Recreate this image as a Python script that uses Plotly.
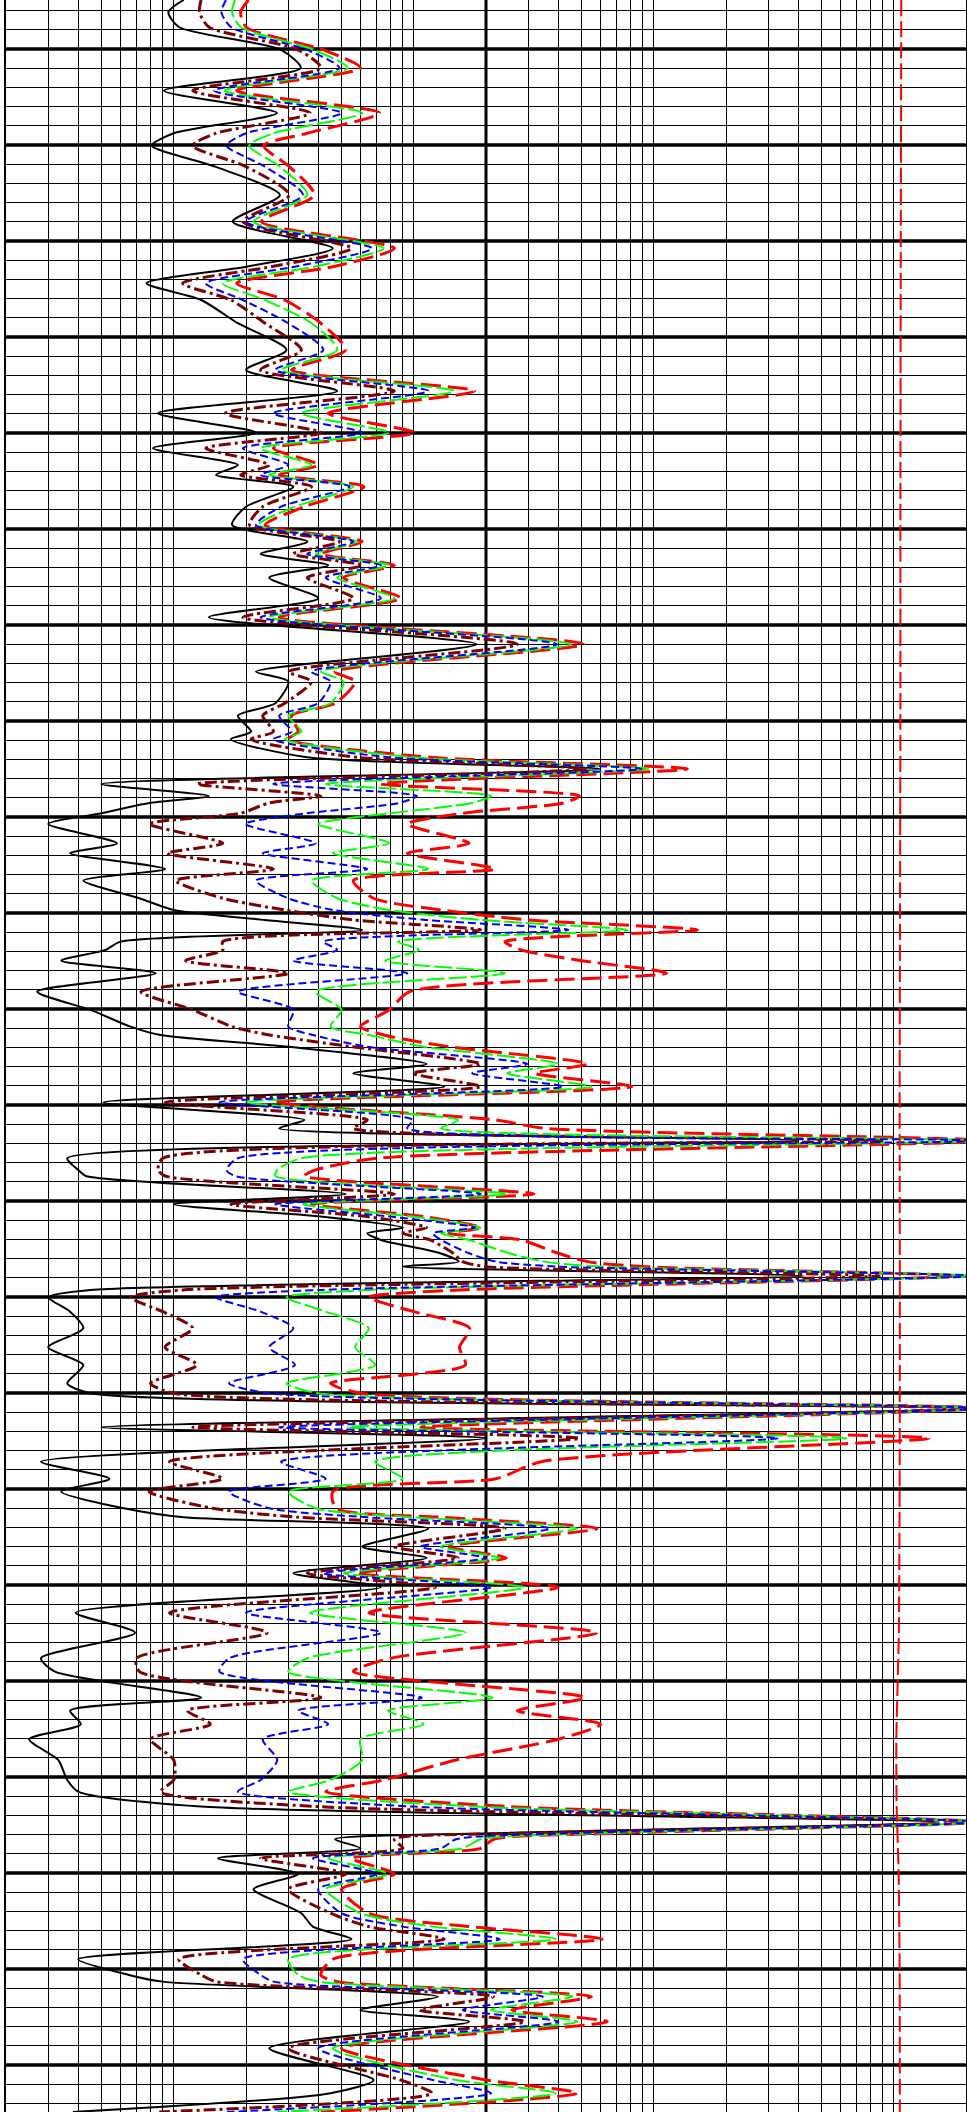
import math
import plotly.graph_objects as go

# ---------------- data ----------------
depth = [4994.9, 4996.15, 4997.71, 5000.1, 5001.98, 5004.34, 5006.67, 5008.78, 5010.07, 5012.26,
         5015.21, 5017.99, 5020.76, 5022.68, 5024.41, 5026.15, 5028.57, 5031.35, 5033.44, 5035.63,
         5037.95, 5039.97, 5041.59, 5043.33, 5044.37, 5045.59, 5047.68, 5049.58, 5051.32, 5052.6,
         5053.78, 5055.07, 5057.22, 5059.2, 5062.01, 5064.86, 5065.9, 5068.15, 5069.45, 5071.11,
         5071.9, 5073.78, 5075.0, 5076.56, 5077.81, 5078.54, 5079.61, 5080.73, 5082.74, 5083.78,
         5085.42, 5086.63, 5088.47, 5089.69, 5090.73, 5091.77, 5092.99, 5093.85, 5094.97, 5096.28,
         5098.2, 5100.1, 5101.84, 5102.71, 5103.93, 5105.73, 5106.7, 5108.09, 5109.72, 5111.56,
         5112.43, 5113.72, 5115.55, 5116.77, 5117.4, 5119.27, 5120.34, 5121.63, 5122.78, 5123.37,
         5124.06, 5125.45, 5126.32, 5126.84, 5127.81, 5129.27, 5130.03, 5131.53, 5133.26, 5135.24,
         5137.08, 5138.99, 5140.03, 5141.6, 5143.57, 5144.72, 5147.16, 5148.93, 5150.28, 5152.01,
         5152.95, 5154.13, 5156.01, 5157.19, 5158.78, 5160.24, 5162.89, 5164.97, 5167.63, 5169.03,
         5171.74, 5173.09, 5174.51, 5176.07, 5178.23, 5180.31, 5181.53, 5183.09, 5184.69, 5185.86,
         5186.49, 5187.43, 5188.47, 5190.1, 5191.69, 5194.19, 5195.59, 5196.9, 5198.99, 5200.62,
         5201.32, 5202.88, 5204.27, 5205.49, 5208.26, 5211.56, 5212.94, 5214.9]

# shallowest (black)
res_10 = [1.1, 0.95, 1.05, 2.8, 3.38, 0.91, 2.69, 1.0, 0.81, 1.49,
          2.77, 1.76, 4.6, 2.0, 0.77, 1.3, 1.85, 2.95, 2.0, 4.8,
          0.86, 2.2, 0.82, 1.85, 1.5, 3.15, 2.0, 1.75, 3.6, 2.3,
          4.4, 2.5, 4.0, 1.4, 18.3, 2.2, 3.0, 2.65, 1.85, 2.1,
          1.73, 3.6, 60, 0.5, 1.4, 0.79, 0.5, 0.3, 0.58, 0.37,
          0.92, 0.42, 0.72, 1.0, 2.4, 6.1, 0.6, 0.52, 0.34, 0.84,
          0.27, 0.45, 0.66, 0.88, 3.0, 11.3, 5.6, 13.4, 0.51, 3.5,
          2.75, 400, 0.36, 0.4, 0.43, 5.2, 1.0, 4.1, 9, 6.4,
          7.3, 12.9, 15.4, 9, 420, 0.45, 0.3, 0.37, 0.42, 0.3,
          0.42, 0.36, 0.45, 2000, 0.5, 20, 0.28, 0.54, 0.34, 0.62,
          1.1, 11.5, 6.1, 11.3, 3.15, 7.3, 0.39, 0.69, 0.28, 0.32,
          1.3, 0.37, 0.41, 0.25, 0.33, 0.36, 0.4, 1.3, 1500, 21,
          4.7, 6.0, 1.53, 3.3, 2.15, 3.4, 3.8, 5.5, 0.4, 0.65,
          0.9, 12.6, 6.0, 17, 2.5, 6.8, 4.5, 0.38]

# maroon
res_20 = [1.3, 1.28, 1.4, 3.3, 4.1, 1.2, 3.7, 1.5, 1.2, 2.0,
          3.03, 1.94, 5.5, 2.55, 1.09, 1.73, 2.4, 3.4, 2.3, 8.3,
          1.64, 4.1, 1.36, 2.5, 1.9, 3.75, 2.35, 2.07, 4.9, 3.15,
          6.1, 3.6, 5.6, 1.94, 27, 3.0, 3.75, 2.9, 2.35, 2.6,
          2.1, 5.8, 53, 1.25, 4.1, 2.5, 1.9, 0.79, 1.6, 0.94,
          2.6, 1.02, 1.6, 2.9, 5.6, 19, 1.6, 1.6, 1.12, 3.0,
          0.73, 1.2, 1.75, 2.5, 5.5, 19, 9.9, 19, 0.92, 6.4,
          5.6, 900, 0.9, 0.86, 0.92, 8.3, 1.73, 6.4, 11.3, 9,
          11.7, 14.6, 16, 20, 870, 1.09, 0.66, 0.9, 1.2, 0.92,
          1.25, 0.8, 1.0, 2100, 1.2, 49, 0.96, 1.6, 0.79, 1.45,
          3.3, 24, 8.3, 15.3, 3.6, 12.3, 0.96, 2.45, 0.7, 0.72,
          4.1, 1.14, 1.42, 0.8, 1.0, 1.0, 0.88, 4, 2200, 30,
          8.3, 9, 2.3, 5.2, 3.0, 4.5, 6.5, 13.4, 1.05, 1.3,
          1.5, 21.5, 10.6, 29, 3.0, 8.8, 11.9, 0.87]

# blue
res_30 = [1.65, 1.58, 1.73, 3.6, 4.9, 1.47, 5.0, 2.0, 1.66, 2.4,
          3.45, 2.0, 6.7, 3.2, 1.36, 1.94, 3.0, 4.2, 2.65, 11.5,
          2.6, 6.1, 1.94, 3.0, 2.3, 5.4, 2.8, 2.2, 5.6, 3.6,
          7.3, 4.3, 7.3, 2.3, 39.5, 3.75, 4.5, 4.0, 2.75, 3.1,
          2.6, 7.9, 89, 2.6, 10.3, 8.7, 3.6, 1.98, 3.9, 2.35,
          6.4, 2.2, 3.0, 4.6, 11.3, 44, 4.2, 4.8, 3.15, 9.4,
          1.85, 3.15, 3.0, 3.8, 6.4, 29.7, 17.5, 42, 1.55, 9.9,
          9.4, 2200, 1.85, 1.66, 1.8, 19, 2.65, 8, 18, 12,
          13, 17, 22, 40, 2200, 4.1, 1.5, 2.3, 3.15, 2.5,
          3.2, 1.7, 2.5, 2300, 2.75, 330, 2.8, 4.3, 1.7, 2.5,
          6.4, 37, 10.7, 20, 4.2, 21, 2.0, 7.3, 1.7, 1.55,
          10.8, 3.3, 4.4, 2.35, 2.7, 2.3, 1.85, 10, 2300, 45,
          15, 13, 3.8, 7, 4.0, 5, 9, 22.8, 1.94, 2.3,
          2.6, 34.5, 16, 40, 4.0, 12, 21, 1.67]

# green
res_60 = [1.8, 1.75, 1.9, 3.85, 5.3, 1.63, 6.1, 2.6, 2.06, 2.77,
          3.6, 2.15, 7.5, 3.85, 1.6, 2.4, 3.75, 4.8, 2.8, 14.7,
          3.4, 7.9, 2.3, 3.75, 2.5, 5.6, 3.2, 2.25, 5.8, 3.9,
          7.9, 4.8, 8.3, 2.5, 45, 4.1, 5.1, 4.5, 3.0, 3.4,
          2.9, 9.9, 96, 4.3, 21, 17.5, 8, 4.0, 7.9, 4.6,
          11.5, 3.75, 4.8, 7.9, 19, 78, 8.6, 10.5, 7.6, 24,
          3.9, 5.0, 4.5, 6.5, 11, 40, 24.5, 55, 2.0, 15.3,
          13, 2300, 3.4, 2.7, 2.65, 24.5, 3.45, 9.9, 19, 13,
          17, 25, 35, 60, 2200, 6.4, 2.95, 4.3, 6.5, 5.7,
          6.9, 2.95, 4, 2300, 5.3, 635, 6.9, 9, 3.0, 3.9,
          9.9, 48, 12.9, 22.8, 5.1, 29, 3.7, 16.4, 3.6, 3.0,
          21.3, 7.8, 11, 6.0, 6.1, 4.5, 3.0, 18, 2300, 60,
          19, 16, 4.4, 7.8, 4.3, 6, 12, 39, 3.0, 3.3,
          4.0, 46, 21, 48, 4.6, 15, 39, 2.7]

# deepest (red)
res_90 = [2.05, 1.9, 2.0, 4.2, 6.0, 1.83, 7.2, 3.6, 2.37, 3.03,
          3.85, 2.32, 8.3, 4.6, 1.83, 2.9, 4.1, 5.2, 3.1, 17.9,
          4.4, 10.1, 2.6, 4.0, 2.75, 6.2, 3.5, 2.4, 6.1, 4.1,
          8.3, 5.1, 8.85, 2.75, 51, 4.7, 5.7, 4.7, 3.1, 3.3,
          3.0, 11.7, 138, 7.3, 49, 42, 16, 9.4, 17, 9.4,
          21.8, 5.6, 6.8, 13, 30, 152, 24, 28, 50, 113,
          9.6, 7.9, 6.0, 7.5, 14, 53, 32, 81, 2.65, 22,
          35, 2500, 7.0, 3.9, 3.5, 31.7, 3.75, 11, 19, 14,
          28, 40, 53, 90, 1800, 15.4, 6.5, 10, 17.1, 15.5,
          16.4, 4.5, 6, 2300, 10.7, 1400, 34, 22, 4.6, 4.75,
          13, 58, 14, 24.3, 5.8, 40, 6.5, 58, 8, 5.6,
          52, 27, 60, 40, 15, 7.5, 4.3, 25, 2300, 70,
          21.5, 19, 5.5, 8.3, 5.0, 6.5, 17, 61, 4.6, 4.1,
          4.8, 55, 25.6, 64, 5.0, 20, 48, 4.1]

# far-right red reference curve
ref_depth = [4994.9, 5010, 5030, 5050, 5070, 5090, 5110, 5130, 5150, 5165, 5176, 5183, 5190, 5200, 5214.9]
ref_vals = [1075, 1072, 1068, 1066, 1066, 1062, 1058, 1060, 1058, 1050, 1025, 1028, 1048, 1058, 1060]

# ---------------- layout constants ----------------
X_MIN, X_MAX = 0.2, 2000
TOP, BOTTOM = 4994.9, 5214.9
MAJOR_STEP, MINOR_STEP = 10, 2
HEAVY_X = 20

grid_x = [m * 10 ** e for e in range(-1, 4) for m in range(1, 10)
          if X_MIN - 1e-9 <= m * 10 ** e <= X_MAX + 1e-9]
major_depths = list(range(5000, 5215, MAJOR_STEP))

fig = go.Figure()

styles = [
    (res_10, "black", 2.0, "solid"),
    (res_20, "#800000", 3.0, "12px,4px,3px,4px"),
    (res_90, "#ff0000", 3.0, "20px,7px"),
    (res_60, "#00ff00", 2.0, "18px,4px"),
    (res_30, "#0000ff", 2.0, "8px,4px"),
]
for vals, col, w, dash in styles:
    fig.add_trace(go.Scatter(x=vals, y=depth, mode="lines",
                             line=dict(color=col, width=w, dash=dash, shape="spline", smoothing=0.7),
                             hoverinfo="skip", showlegend=False))

fig.add_trace(go.Scatter(x=ref_vals, y=ref_depth, mode="lines",
                         line=dict(color="#ff0000", width=2, dash="16px,5px", shape="spline", smoothing=0.5),
                         hoverinfo="skip", showlegend=False))

shapes = []
for d in major_depths:
    shapes.append(dict(type="line", xref="paper", x0=0, x1=1, yref="y", y0=d, y1=d,
                       line=dict(color="black", width=3.5), layer="below"))
shapes.append(dict(type="line", xref="x", x0=HEAVY_X, x1=HEAVY_X,
                   yref="paper", y0=0, y1=1, line=dict(color="black", width=3), layer="below"))

fig.update_layout(
    width=967, height=2112,
    margin=dict(l=6, r=1, t=0, b=0),
    paper_bgcolor="white", plot_bgcolor="white",
    showlegend=False,
    shapes=shapes,
    xaxis=dict(type="log", range=[math.log10(X_MIN), math.log10(X_MAX)],
               tickmode="array", tickvals=grid_x, showticklabels=False, ticks="",
               showgrid=True, gridcolor="black", gridwidth=1.3, zeroline=False,
               showline=False, fixedrange=True),
    yaxis=dict(range=[BOTTOM, TOP], tickmode="linear", tick0=5000, dtick=MINOR_STEP,
               showticklabels=False, ticks="", showgrid=True, gridcolor="black", gridwidth=1.3,
               zeroline=False, showline=True, linecolor="black", linewidth=2, mirror=True,
               fixedrange=True),
)

fig.write_html("out.html", config={"displayModeBar": False})
